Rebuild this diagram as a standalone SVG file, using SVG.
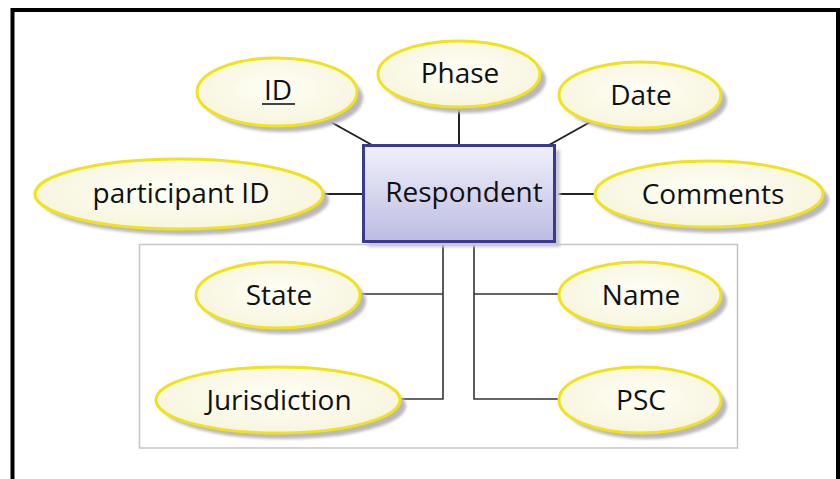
<svg xmlns="http://www.w3.org/2000/svg" width="840" height="479" viewBox="0 0 840 479">
  <style>
    .attr { fill: url(#attrFill); stroke: #f2e21a; stroke-width: 3; }
    .shadow { fill: #b8b8be; filter: url(#soft); }
    .label { font-family: "Open Sans", "Liberation Sans", sans-serif; font-size: 28px; fill: #111; text-anchor: middle; }
    .link { stroke: #222; stroke-width: 2; fill: none; }
    .bus { stroke: #333; stroke-width: 1.6; fill: none; }
  </style>
  <defs>
    <radialGradient id="attrFill" cx="50%" cy="45%" r="60%">
      <stop offset="0" stop-color="#fffff6"/>
      <stop offset="1" stop-color="#f6f4dc"/>
    </radialGradient>
    <linearGradient id="entityFill" x1="0" y1="0" x2="0" y2="1">
      <stop offset="0" stop-color="#f0f0fb"/>
      <stop offset="1" stop-color="#bcbce2"/>
    </linearGradient>
    <filter id="soft" x="-20%" y="-30%" width="140%" height="160%">
      <feGaussianBlur stdDeviation="1.8"/>
    </filter>
  </defs>

  <rect width="840" height="479" fill="#ffffff"/>
  <!-- outer frame -->
  <rect x="12.5" y="10" width="825.5" height="485" fill="none" stroke="#000" stroke-width="4"/>

  <!-- grouping box for the location attributes -->
  <rect id="location-box" x="139.5" y="244.5" width="598" height="203.5" fill="none" stroke="#c8c8c8" stroke-width="1.6"/>

  <g id="connectors">
    <line class="link" x1="329" y1="121" x2="372" y2="145"/>
    <line class="link" x1="323" y1="194" x2="363" y2="194"/>
    <line class="link" x1="459" y1="107" x2="459" y2="145"/>
    <line class="link" x1="592" y1="121" x2="549" y2="145"/>
    <line class="link" x1="555" y1="194" x2="595" y2="194"/>
    <polyline class="bus" points="443,242 443,399 400,399"/>
    <line class="bus" x1="359" y1="294" x2="443" y2="294"/>
    <polyline class="bus" points="474,242 474,399 559,399"/>
    <line class="bus" x1="474" y1="294" x2="559" y2="294"/>
  </g>

  <g id="respondent">
    <rect x="368" y="150" width="192" height="97" fill="#c8c8d0" filter="url(#soft)"/>
    <rect x="363.5" y="145.5" width="191" height="96" fill="url(#entityFill)" stroke="#3a3a92" stroke-width="3"/>
    <text class="label" x="464" y="202">Respondent</text>
  </g>

  <g id="attr-id">
    <ellipse class="shadow" cx="283" cy="98" rx="80" ry="34"/>
    <ellipse class="attr" cx="277" cy="92" rx="80" ry="34"/>
    <text class="label" x="278" y="100">ID</text>
    <line x1="262" y1="104" x2="295" y2="104" stroke="#444" stroke-width="1.8"/>
  </g>

  <g id="attr-phase">
    <ellipse class="shadow" cx="465" cy="80" rx="81" ry="33"/>
    <ellipse class="attr" cx="459" cy="74" rx="81" ry="33"/>
    <text class="label" x="460" y="83">Phase</text>
  </g>

  <g id="attr-date">
    <ellipse class="shadow" cx="646" cy="101" rx="81" ry="33"/>
    <ellipse class="attr" cx="640" cy="95" rx="81" ry="33"/>
    <text class="label" x="641" y="105">Date</text>
  </g>

  <g id="attr-participant-id">
    <ellipse class="shadow" cx="185" cy="200" rx="144" ry="35"/>
    <ellipse class="attr" cx="179" cy="194" rx="144" ry="35"/>
    <text class="label" x="181" y="203">participant ID</text>
  </g>

  <g id="attr-comments">
    <ellipse class="shadow" cx="715" cy="200" rx="114" ry="33"/>
    <ellipse class="attr" cx="709" cy="194" rx="114" ry="33"/>
    <text class="label" x="713" y="204">Comments</text>
  </g>

  <g id="attr-state">
    <ellipse class="shadow" cx="284" cy="301" rx="82" ry="33"/>
    <ellipse class="attr" cx="278" cy="295" rx="82" ry="33"/>
    <text class="label" x="279" y="305">State</text>
  </g>

  <g id="attr-jurisdiction">
    <ellipse class="shadow" cx="284" cy="406" rx="122" ry="33"/>
    <ellipse class="attr" cx="278" cy="400" rx="122" ry="33"/>
    <text class="label" x="279" y="410">Jurisdiction</text>
  </g>

  <g id="attr-name">
    <ellipse class="shadow" cx="646" cy="301" rx="81" ry="33"/>
    <ellipse class="attr" cx="640" cy="295" rx="81" ry="33"/>
    <text class="label" x="641" y="305">Name</text>
  </g>

  <g id="attr-psc">
    <ellipse class="shadow" cx="646" cy="406" rx="81" ry="33"/>
    <ellipse class="attr" cx="640" cy="400" rx="81" ry="33"/>
    <text class="label" x="641" y="410">PSC</text>
  </g>
</svg>
